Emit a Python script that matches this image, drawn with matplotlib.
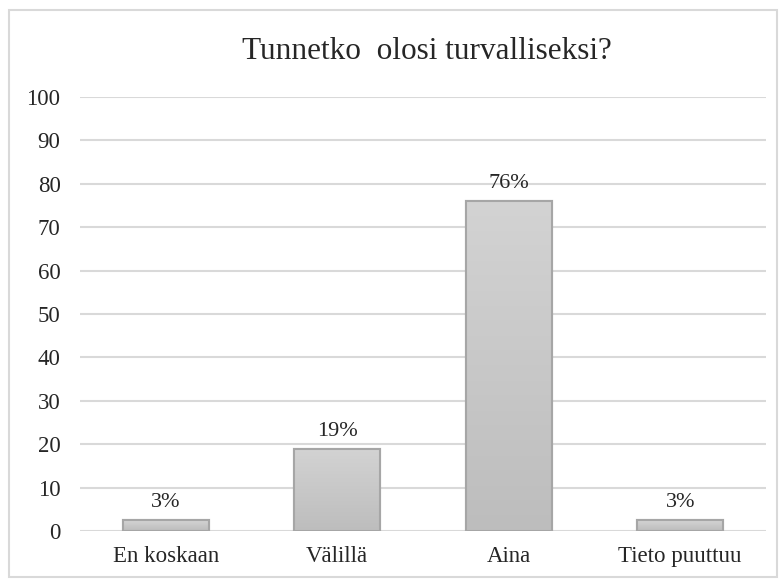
import matplotlib.pyplot as plt
import numpy as np
from matplotlib.patches import Rectangle
from matplotlib.colors import LinearSegmentedColormap

categories = ["En koskaan", "Välillä", "Aina", "Tieto puuttuu"]
values = [2.5, 19, 76, 2.5]
labels = ["3%", "19%", "76%", "3%"]

plt.rcParams['font.family'] = ['Liberation Serif', 'DejaVu Serif']

fig = plt.figure(figsize=(7.84, 5.83), dpi=100)
ax = fig.add_axes([0.102, 0.089, 0.875, 0.745])

x = np.arange(len(categories))
bars = ax.bar(x, values, width=0.5, color='#c8c8c8', edgecolor='#a6a6a6', linewidth=1.5, zorder=3)

# vertical gradient inside each bar, lighter on top
cmap = LinearSegmentedColormap.from_list('g', ['#d3d3d3', '#bdbdbd'])
grad = np.linspace(0, 1, 256).reshape(-1, 1)
for b in bars:
    img = ax.imshow(grad, cmap=cmap,
                    extent=[b.get_x(), b.get_x() + b.get_width(), 0, b.get_height()],
                    aspect='auto', zorder=3, origin='upper')
    img.set_clip_path(b)
    ax.add_patch(Rectangle((b.get_x(), 0), b.get_width(), b.get_height(), fill=False,
                           edgecolor='#a6a6a6', linewidth=1.5, zorder=4))

for xi, v, lab in zip(x, values, labels):
    ax.text(xi, v + 1.8, lab, ha='center', va='bottom', fontsize=16, color='#262626')

ax.set_xlim(-0.5, 3.5)
ax.set_ylim(0, 100)
ax.set_yticks(range(0, 101, 10))
ax.set_xticks(x)
ax.set_xticklabels(categories)
ax.tick_params(axis='both', length=0, labelsize=16.5, labelcolor='#262626')
ax.tick_params(axis='y', pad=14)
ax.tick_params(axis='x', pad=11)
ax.grid(axis='y', color='#d9d9d9', linewidth=1.5, zorder=0)
ax.set_axisbelow(True)
for s in ax.spines.values():
    s.set_visible(False)

fig.text(0.545, 0.912, "Tunnetko  olosi turvalliseksi?", ha='center', va='center', fontsize=22.5, color='#262626')

fig.add_artist(Rectangle((0.011, 0.011), 0.98, 0.972, transform=fig.transFigure,
                         fill=False, edgecolor='#d9d9d9', linewidth=1.5))

fig.savefig("out.png", dpi=100)
